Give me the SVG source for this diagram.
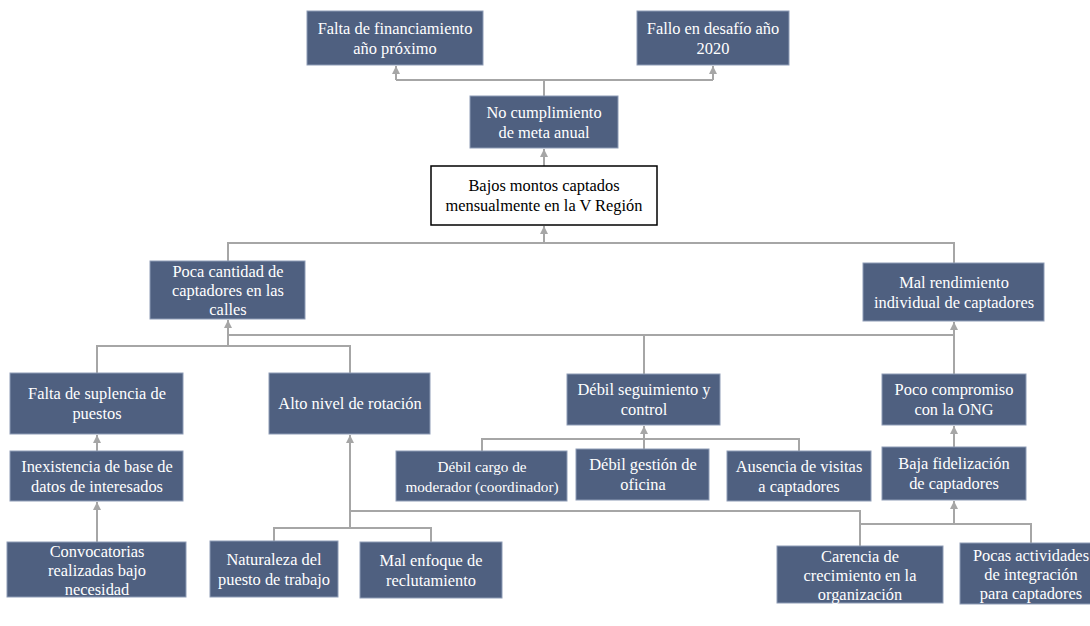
<svg xmlns="http://www.w3.org/2000/svg" width="1090" height="626" viewBox="0 0 1090 626" font-family="'Liberation Serif', 'DejaVu Serif', serif">
<style>
.b{fill:#4f6080;stroke:#8e9cb6;stroke-width:1}
.w{fill:#ffffff;stroke:#000000;stroke-width:1.5}
text{font-family:'Liberation Serif','DejaVu Serif',serif}
.t{font-size:16.4px;fill:#ffffff;text-anchor:middle}
.k{fill:#000000}
.s{font-size:15.2px}
.c{fill:none;stroke:#a6a6a6;stroke-width:2}
</style>
<defs>
<marker id="ah" viewBox="0 0 10 10" refX="10" refY="5" markerWidth="8" markerHeight="8" markerUnits="userSpaceOnUse" orient="auto">
<path d="M0,0 L10,5 L0,10 z" fill="#a6a6a6"/>
</marker>
</defs>
<rect width="1090" height="626" fill="#ffffff"/>
<g id="connectors">
<path class="c" d="M544,96 V80"/>
<path class="c" d="M396,80 H713"/>
<path class="c" d="M396,80 V66" marker-end="url(#ah)"/>
<path class="c" d="M713,80 V66" marker-end="url(#ah)"/>
<path class="c" d="M544,166 V149" marker-end="url(#ah)"/>
<path class="c" d="M228,261 V243 H954 V263"/>
<path class="c" d="M544,243 V226" marker-end="url(#ah)"/>
<path class="c" d="M228,346 V320" marker-end="url(#ah)"/>
<path class="c" d="M228,335 H954"/>
<path class="c" d="M644,335 V374"/>
<path class="c" d="M97,373 V346 H350 V373"/>
<path class="c" d="M954,374 V322" marker-end="url(#ah)"/>
<path class="c" d="M97,451 V435" marker-end="url(#ah)"/>
<path class="c" d="M97,542 V502" marker-end="url(#ah)"/>
<path class="c" d="M644,449 V426" marker-end="url(#ah)"/>
<path class="c" d="M482,451 V439 H799 V451"/>
<path class="c" d="M954,447 V426" marker-end="url(#ah)"/>
<path class="c" d="M350,528 V435" marker-end="url(#ah)"/>
<path class="c" d="M274,541 V528 H431 V542"/>
<path class="c" d="M350,511 H860 V546"/>
<path class="c" d="M860,524 H1031 V543"/>
<path class="c" d="M954,524 V501" marker-end="url(#ah)"/>
</g>
<g id="n-falta-financiamiento">
<rect class="b" x="307" y="11" width="176" height="54"/>
<text class="t" x="395" y="33.5">Falta de financiamiento</text>
<text class="t" x="395" y="53.5">año próximo</text>
</g>
<g id="n-fallo-desafio">
<rect class="b" x="637" y="11" width="152" height="54"/>
<text class="t" x="713" y="33.5">Fallo en desafío año</text>
<text class="t" x="713" y="53.5">2020</text>
</g>
<g id="n-no-cumplimiento">
<rect class="b" x="470" y="96" width="148" height="52"/>
<text class="t" x="544" y="117.5">No cumplimiento</text>
<text class="t" x="544" y="137.5">de meta anual</text>
</g>
<g id="n-bajos-montos">
<rect class="w" x="431" y="166" width="226" height="59"/>
<text class="t k" x="544" y="191">Bajos montos captados</text>
<text class="t k" x="544" y="211">mensualmente en la V Región</text>
</g>
<g id="n-poca-cantidad">
<rect class="b" x="150" y="261" width="155" height="58"/>
<text class="t" x="228" y="277">Poca cantidad de</text>
<text class="t" x="228" y="296">captadores en las</text>
<text class="t" x="228" y="315">calles</text>
</g>
<g id="n-mal-rendimiento">
<rect class="b" x="863" y="263" width="181" height="58"/>
<text class="t" x="954" y="287.5">Mal rendimiento</text>
<text class="t" x="954" y="307.5">individual de captadores</text>
</g>
<g id="n-falta-suplencia">
<rect class="b" x="10" y="373" width="173" height="61"/>
<text class="t" x="97" y="399">Falta de suplencia de</text>
<text class="t" x="97" y="419">puestos</text>
</g>
<g id="n-alto-nivel">
<rect class="b" x="269" y="373" width="161" height="61"/>
<text class="t" x="350" y="409">Alto nivel de rotación</text>
</g>
<g id="n-debil-seguimiento">
<rect class="b" x="567" y="374" width="153" height="51"/>
<text class="t" x="644" y="395">Débil seguimiento y</text>
<text class="t" x="644" y="415">control</text>
</g>
<g id="n-poco-compromiso">
<rect class="b" x="882" y="374" width="144" height="51"/>
<text class="t" x="954" y="395">Poco compromiso</text>
<text class="t" x="954" y="415">con la ONG</text>
</g>
<g id="n-inexistencia">
<rect class="b" x="10" y="451" width="173" height="50"/>
<text class="t" x="97" y="471.5">Inexistencia de base de</text>
<text class="t" x="97" y="491.5">datos de interesados</text>
</g>
<g id="n-debil-cargo">
<rect class="b" x="396" y="451" width="171" height="50"/>
<text class="t s" x="482" y="471.5">Débil cargo de</text>
<text class="t s" x="482" y="491.5">moderador (coordinador)</text>
</g>
<g id="n-debil-gestion">
<rect class="b" x="576" y="449" width="133" height="51"/>
<text class="t" x="643" y="470">Débil gestión de</text>
<text class="t" x="643" y="490">oficina</text>
</g>
<g id="n-ausencia-visitas">
<rect class="b" x="727" y="451" width="144" height="50"/>
<text class="t" x="799" y="471.5">Ausencia de visitas</text>
<text class="t" x="799" y="491.5">a captadores</text>
</g>
<g id="n-baja-fidelizacion">
<rect class="b" x="882" y="447" width="144" height="53"/>
<text class="t" x="954" y="469">Baja fidelización</text>
<text class="t" x="954" y="489">de captadores</text>
</g>
<g id="n-convocatorias">
<rect class="b" x="7" y="542" width="179" height="55"/>
<text class="t" x="97" y="557">Convocatorias</text>
<text class="t" x="97" y="576">realizadas bajo</text>
<text class="t" x="97" y="595">necesidad</text>
</g>
<g id="n-naturaleza">
<rect class="b" x="210" y="541" width="128" height="56"/>
<text class="t" x="274" y="565">Naturaleza del</text>
<text class="t" x="274" y="585">puesto de trabajo</text>
</g>
<g id="n-mal-enfoque">
<rect class="b" x="360" y="542" width="142" height="56"/>
<text class="t" x="431" y="566">Mal enfoque de</text>
<text class="t" x="431" y="586">reclutamiento</text>
</g>
<g id="n-carencia">
<rect class="b" x="777" y="546" width="166" height="57"/>
<text class="t" x="860" y="562">Carencia de</text>
<text class="t" x="860" y="581">crecimiento en la</text>
<text class="t" x="860" y="600">organización</text>
</g>
<g id="n-pocas-actividades">
<rect class="b" x="960" y="543" width="142" height="61"/>
<text class="t" x="1031" y="561">Pocas actividades</text>
<text class="t" x="1031" y="580">de integración</text>
<text class="t" x="1031" y="599">para captadores</text>
</g>
</svg>
